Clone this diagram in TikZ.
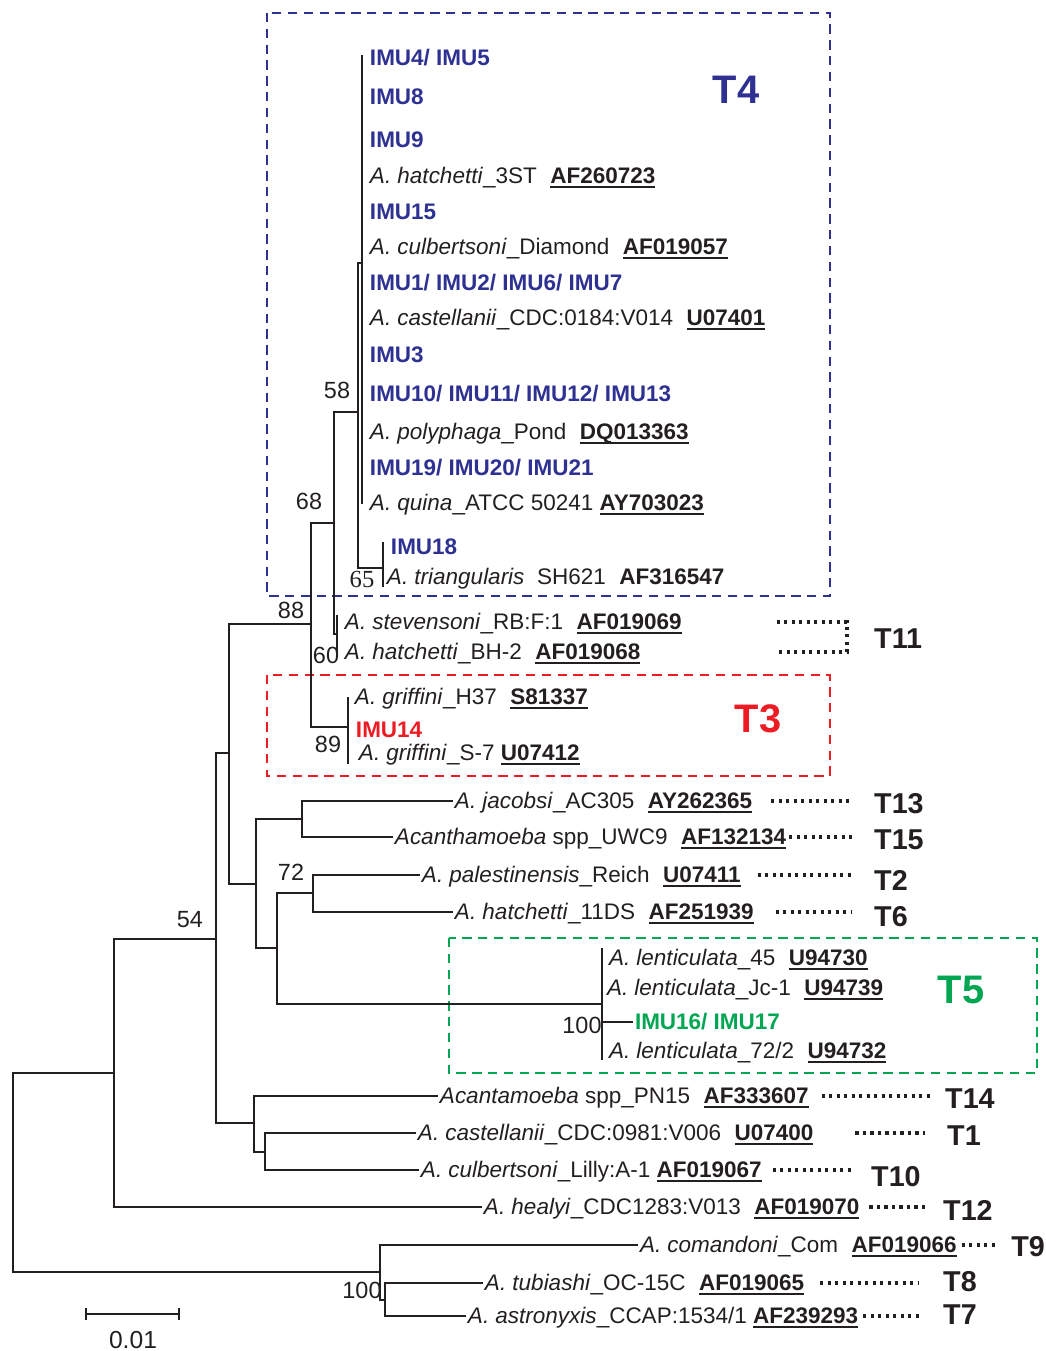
\documentclass[tikz,border=0pt]{standalone}
\usepackage{fontspec}
\setmainfont{Liberation Sans}
\newfontfamily\bootserif{Liberation Serif}
\usetikzlibrary{calc}

\definecolor{tfour}{RGB}{46,49,146}
\definecolor{tthree}{RGB}{237,28,36}
\definecolor{tfive}{RGB}{0,166,81}
\definecolor{inkgray}{RGB}{35,31,32}

\newsavebox\accbox
\newcommand{\acc}[1]{\sbox\accbox{\textbf{#1}}\rlap{\rule[-3.6pt]{\wd\accbox}{1.5pt}}\usebox\accbox}
\newcommand{\leaffont}{\fontsize{19.2}{23}\selectfont}
\newcommand{\accgap}{\hspace{0.6em}}

\begin{document}
\begin{tikzpicture}[
        x=0.03cm, y=-0.03cm,
        branch/.style={draw=inkgray, line width=1pt},
        leaf/.style={
            anchor=west,
            inner xsep=1.5pt,
            inner ysep=0pt,
            text height=16.5pt,
            text depth=3.6pt,
            font=\leaffont,
            text=inkgray
        },
        imu/.style={leaf, font=\leaffont\bfseries, text=tfour},
        boot/.style={font=\fontsize{20}{24}\selectfont, text=inkgray, inner sep=0pt},
        clade/.style={line width=1.7pt, dash pattern=on 8pt off 5.5pt},
        typeline/.style={draw=inkgray, line width=2.8pt, dash pattern=on 2.8pt off 3.6pt},
        bigtype/.style={font=\fontsize{34}{40}\selectfont\bfseries, inner sep=0pt},
        smalltype/.style={anchor=west, font=\fontsize{24.5}{29}\selectfont\bfseries, text=inkgray, inner sep=0pt}
    ]
        \useasboundingbox (0,0) rectangle (1046,1351);

        % clade boxes
        \draw[clade, tfour] (267,13) rectangle (830,596);
        \draw[clade, tthree] (267,675) rectangle (830,776);
        \draw[clade, tfive] (449,938) rectangle (1037,1073);
        \node[bigtype, text=tfour] (labT4) at (736,90) {T4};
        \node[bigtype, text=tthree] (labT3) at (758,719) {T3};
        \node[bigtype, text=tfive] (labT5) at (961,990) {T5};

        % internal nodes
        \coordinate (root) at (13,1170);
        \coordinate (n114) at (114,1073);
        \coordinate (n216) at (216,939);
        \coordinate (n229) at (229,753);
        \coordinate (n311) at (311,624);
        \coordinate (n334) at (334,523);
        \coordinate (n358) at (358,412);
        \coordinate (nT4) at (362,263);
        \coordinate (nT4top) at (362,55);
        \coordinate (nT4bot) at (362,504);
        \coordinate (n383) at (383,568);
        \coordinate (n383top) at (383,542);
        \coordinate (n383bot) at (383,587);
        \coordinate (n337) at (337,634);
        \coordinate (n337top) at (337,615);
        \coordinate (n337bot) at (337,652);
        \coordinate (n348) at (348,727);
        \coordinate (n348top) at (348,697);
        \coordinate (n348bot) at (348,764);
        \coordinate (n256) at (256,884);
        \coordinate (n302) at (302,819);
        \coordinate (n277) at (277,948);
        \coordinate (n313) at (313,893);
        \coordinate (nT5) at (602,1004);
        \coordinate (nT5top) at (602,948);
        \coordinate (nT5bot) at (602,1060);
        \coordinate (n254) at (254,1123);
        \coordinate (n265) at (265,1152);
        \coordinate (n380) at (380,1272);
        \coordinate (n385) at (385,1300);

        % T4 leaves
        \node[imu] (imu45) at (368,58) {IMU4/ IMU5};
        \node[imu] (imu8) at (368,97) {IMU8};
        \node[imu] (imu9) at (368,140) {IMU9};
        \node[leaf] (hat3st) at (368,176) {\textit{A. hatchetti}\_3ST\accgap\acc{AF260723}};
        \node[imu] (imu15) at (368,212) {IMU15};
        \node[leaf] (culdia) at (368,247) {\textit{A. culbertsoni}\_Diamond\accgap\acc{AF019057}};
        \node[imu] (imu1267) at (368,283) {IMU1/ IMU2/ IMU6/ IMU7};
        \node[leaf] (cas0184) at (368,318) {\textit{A. castellanii}\_CDC:0184:V014\accgap\acc{U07401}};
        \node[imu] (imu3) at (368,355) {IMU3};
        \node[imu] (imu1013) at (368,394) {IMU10/ IMU11/ IMU12/ IMU13};
        \node[leaf] (polpond) at (368,432) {\textit{A. polyphaga}\_Pond\accgap\acc{DQ013363}};
        \node[imu] (imu1921) at (368,468) {IMU19/ IMU20/ IMU21};
        \node[leaf] (quina) at (368,503) {\textit{A. quina}\_ATCC 50241 \acc{AY703023}};
        \node[imu] (imu18) at (389,547) {IMU18};
        \node[leaf] (triang) at (385,577) {\textit{A. triangularis}\ \ SH621\accgap\textbf{AF316547}};

        % T11 and T3 leaves
        \node[leaf] (stev) at (343,622) {\textit{A. stevensoni}\_RB:F:1\accgap\acc{AF019069}};
        \node[leaf] (bhtwo) at (343,652) {\textit{A. hatchetti}\_BH-2\accgap\acc{AF019068}};
        \node[leaf] (grifh) at (353,697) {\textit{A. griffini}\_H37\accgap\acc{S81337}};
        \node[imu, text=tthree] (imu14) at (354,730) {IMU14};
        \node[leaf] (grifs) at (357,753) {\textit{A. griffini}\_S-7 \acc{U07412}};

        % middle leaves
        \node[leaf] (jacobsi) at (453,801) {\textit{A. jacobsi}\_AC305\accgap\acc{AY262365}};
        \node[leaf] (uwcnine) at (393,837) {\textit{Acanthamoeba} spp\_UWC9\accgap\acc{AF132134}};
        \node[leaf] (palest) at (420,875) {\textit{A. palestinensis}\_Reich\accgap\acc{U07411}};
        \node[leaf] (hat11) at (453,912) {\textit{A. hatchetti}\_11DS\accgap\acc{AF251939}};

        % T5 leaves
        \node[leaf] (len45) at (607,958) {\textit{A. lenticulata}\_45\accgap\acc{U94730}};
        \node[leaf] (lenjc) at (605,988) {\textit{A. lenticulata}\_Jc-1\accgap\acc{U94739}};
        \node[imu, text=tfive] (imu1617) at (633,1022) {IMU16/ IMU17};
        \node[leaf] (len72) at (607,1051) {\textit{A. lenticulata}\_72/2\accgap\acc{U94732}};

        % lower leaves
        \node[leaf] (pnfifteen) at (438,1096) {\textit{Acantamoeba} spp\_PN15\accgap\acc{AF333607}};
        \node[leaf] (cas0981) at (416,1133) {\textit{A. castellanii}\_CDC:0981:V006\accgap\acc{U07400}};
        \node[leaf] (lilly) at (419,1170) {\textit{A. culbertsoni}\_Lilly:A-1 \acc{AF019067}};
        \node[leaf] (healyi) at (482,1207) {\textit{A. healyi}\_CDC1283:V013\accgap\acc{AF019070}};
        \node[leaf] (comand) at (638,1245) {\textit{A. comandoni}\_Com\accgap\acc{AF019066}};
        \node[leaf] (tubi) at (483,1283) {\textit{A. tubiashi}\_OC-15C\accgap\acc{AF019065}};
        \node[leaf] (astro) at (466,1316) {\textit{A. astronyxis}\_CCAP:1534/1 \acc{AF239293}};

        % branches
        \draw[branch] (root) |- (n114);
        \draw[branch] (root) |- (n380);
        \draw[branch] (n114) |- (n216);
        \draw[branch] (n114) |- (healyi.west);
        \draw[branch] (n216) |- (n229);
        \draw[branch] (n216) |- (n254);
        \draw[branch] (n229) |- (n311);
        \draw[branch] (n229) |- (n256);
        \draw[branch] (n311) |- (n334);
        \draw[branch] (n311) |- (n348);
        \draw[branch] (n334) |- (n358);
        \draw[branch] (n334) |- (n337);
        \draw[branch] (n358) |- (nT4);
        \draw[branch] (n358) |- (n383);
        \draw[branch] (nT4top) -- (nT4bot);
        \draw[branch] (n383top) -- (n383bot);
        \draw[branch] (n337top) -- (n337bot);
        \draw[branch] (n348top) -- (n348bot);
        \draw[branch] (n256) |- (n302);
        \draw[branch] (n256) |- (n277);
        \draw[branch] (n302) |- (jacobsi.west);
        \draw[branch] (n302) |- (uwcnine.west);
        \draw[branch] (n277) |- (n313);
        \draw[branch] (n277) |- (nT5);
        \draw[branch] (n313) |- (palest.west);
        \draw[branch] (n313) |- (hat11.west);
        \draw[branch] (nT5top) -- (nT5bot);
        \draw[branch] (nT5) |- (imu1617.west);
        \draw[branch] (n254) |- (pnfifteen.west);
        \draw[branch] (n254) |- (n265);
        \draw[branch] (n265) |- (cas0981.west);
        \draw[branch] (n265) |- (lilly.west);
        \draw[branch] (n380) |- (comand.west);
        \draw[branch] (n380) |- (n385);
        \draw[branch] (n385) |- (tubi.west);
        \draw[branch] (n385) |- (astro.west);

        % bootstrap values
        \node[boot] (b58) at (337,390) {58};
        \node[boot] (b68) at (309,501) {68};
        \node[boot] (b88) at (291,610) {88};
        \node[boot] (b60) at (326,655) {60};
        \node[boot] (b89) at (328,744) {89};
        \node[boot] (b72) at (291,872) {72};
        \node[boot] (b54) at (190,920) {54};
        \node[boot] (b100a) at (582,1025) {100};
        \node[boot] (b100b) at (362,1290) {100};
        \node[boot, font=\fontsize{21}{24}\selectfont\bootserif] (b65) at (362,579) {65};

        % type labels and dotted links
        \node[smalltype] (T11) at (874,639) {T11};
        \node[smalltype] (T13) at (874,804) {T13};
        \node[smalltype] (T15) at (874,840) {T15};
        \node[smalltype] (T2) at (874,880) {T2};
        \node[smalltype] (T6) at (874,917) {T6};
        \node[smalltype] (T14) at (945,1099) {T14};
        \node[smalltype] (T1) at (947,1136) {T1};
        \node[smalltype] (T10) at (871,1177) {T10};
        \node[smalltype] (T12) at (943,1210) {T12};
        \node[smalltype] (T9) at (1011,1247) {T9};
        \node[smalltype] (T8) at (943,1282) {T8};
        \node[smalltype] (T7) at (943,1315) {T7};

        \draw[typeline] ($(stev.east)+(93,0)$) -- ($(T11.west |- stev.east)+(-27,0)$)
            -- ($(T11.west |- bhtwo.east)+(-27,0)$) -- ($(bhtwo.east)+(135,0)$);
        \draw[typeline] ($(jacobsi.east)+(17,0)$) -- ($(T13.west |- jacobsi.east)+(-22,0)$);
        \draw[typeline] ($(uwcnine.east)+(1,0)$) -- ($(T15.west |- uwcnine.east)+(-22,0)$);
        \draw[typeline] ($(palest.east)+(15,0)$) -- ($(T2.west |- palest.east)+(-22,0)$);
        \draw[typeline] ($(hat11.east)+(20,0)$) -- ($(T6.west |- hat11.east)+(-22,0)$);
        \draw[typeline] ($(pnfifteen.east)+(11,0)$) -- ($(T14.west |- pnfifteen.east)+(-14,0)$);
        \draw[typeline] ($(cas0981.east)+(40,0)$) -- ($(T1.west |- cas0981.east)+(-22,0)$);
        \draw[typeline] ($(lilly.east)+(9,0)$) -- ($(T10.west |- lilly.east)+(-18,0)$);
        \draw[typeline] ($(healyi.east)+(8,0)$) -- ($(T12.west |- healyi.east)+(-18,0)$);
        \draw[typeline] ($(comand.east)+(3,0)$) -- ($(T9.west |- comand.east)+(-16,0)$);
        \draw[typeline] ($(tubi.east)+(14,0)$) -- ($(T8.west |- tubi.east)+(-24,0)$);
        \draw[typeline] ($(astro.east)+(3,0)$) -- ($(T7.west |- astro.east)+(-20,0)$);

        % scale bar
        \coordinate (barl) at (86,1314);
        \coordinate (barr) at (179,1314);
        \draw[branch] (barl) -- (barr);
        \draw[branch] ($(barl)+(0,-6)$) -- ($(barl)+(0,6)$);
        \draw[branch] ($(barr)+(0,-6)$) -- ($(barr)+(0,6)$);
        \node[boot, font=\fontsize{21}{25}\selectfont] (barlab) at (133,1340) {0.01};
    \end{tikzpicture}
\end{document}
